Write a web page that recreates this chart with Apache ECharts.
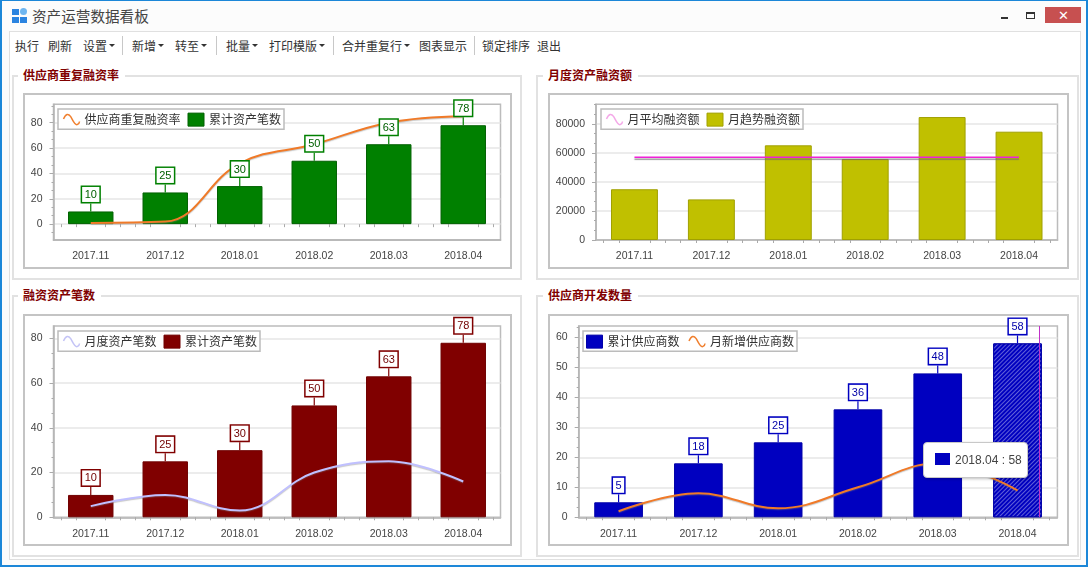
<!DOCTYPE html>
<html>
<head>
<meta charset="utf-8">
<script src="https://cdn.jsdelivr.net/npm/echarts@6/dist/echarts.min.js"></script>
<style>
  html, body { margin: 0; padding: 0; width: 1090px; height: 568px; overflow: hidden; background: #fff; }
  body { font-family: "Noto Sans CJK SC", sans-serif; color: #333; }
  .abs { position: absolute; box-sizing: border-box; }
  #win { left: 0; top: 0; width: 1088px; height: 567px; border: 2px solid #1c87d8; border-top-width: 1px; background: #fcfcfc; }
  #body { left: 9px; top: 31px; width: 1072px; height: 529px; background: #fff; border: 1px solid #e0e0e0; }
  .t { position: absolute; font-size: 12px; line-height: 16px; top: 38px; white-space: nowrap; color: #333; }
  .arrow:after { content: ""; position: absolute; right: -8px; top: 6px; border: 3px solid transparent; border-top: 3px solid #333; }
  .sep { position: absolute; top: 36px; width: 1px; height: 19px; background: #c8c8c8; }
  .set { border: 2px solid #e2e2e2; }
  .cap { position: absolute; background: #fff; padding: 0 6px 0 5px; font-size: 12px; line-height: 16px; font-weight: bold; color: #800000; }
  .frame { border: 2px solid #c4c4c4; background: #fff; }
  .chart { position: absolute; }
</style>
</head>
<body>
<div class="abs" id="win"></div>
<div class="abs" id="body"></div>

<div class="abs" style="left:12px;top:9px;width:7px;height:6px;background:#2b84e0"></div>
<div class="abs" style="left:20px;top:8px;width:7px;height:7px;background:#6fb6f0;border-radius:50%"></div>
<div class="abs" style="left:12px;top:17px;width:7px;height:6px;background:#2b84e0"></div>
<div class="abs" style="left:20px;top:17px;width:7px;height:6px;background:#2b84e0"></div>
<div class="t" style="left:32px;top:6px;font-size:14.6px;line-height:20px;color:#444">资产运营数据看板</div>
<div class="abs" style="left:1001px;top:17px;width:7px;height:2px;background:#333"></div>
<div class="abs" style="left:1026px;top:12px;width:9px;height:7px;border:1px solid #333;border-top-width:2px"></div>
<div class="abs" style="left:1045px;top:7px;width:36px;height:16px;background:#c75050;color:#fff;font-size:13px;line-height:16px;text-align:center">✕</div>

<div class="t" style="left:15px">执行</div>
<div class="t" style="left:48px">刷新</div>
<div class="t arrow" style="left:83px">设置</div>
<div class="sep" style="left:122px"></div>
<div class="t arrow" style="left:132px">新增</div>
<div class="t arrow" style="left:175px">转至</div>
<div class="sep" style="left:216px"></div>
<div class="t arrow" style="left:226px">批量</div>
<div class="t arrow" style="left:269px">打印模版</div>
<div class="sep" style="left:333px"></div>
<div class="t arrow" style="left:342px">合并重复行</div>
<div class="t" style="left:419px">图表显示</div>
<div class="sep" style="left:474px"></div>
<div class="t" style="left:482px">锁定排序</div>
<div class="t" style="left:537px">退出</div>

<div class="abs set" style="left:12px;top:75px;width:510px;height:205px"></div>
<div class="abs set" style="left:536px;top:75px;width:543px;height:205px"></div>
<div class="abs set" style="left:12px;top:295px;width:510px;height:262px"></div>
<div class="abs set" style="left:536px;top:295px;width:543px;height:262px"></div>
<div class="cap" style="left:18px;top:67px">供应商重复融资率</div>
<div class="cap" style="left:543px;top:67px">月度资产融资额</div>
<div class="cap" style="left:18px;top:287px">融资资产笔数</div>
<div class="cap" style="left:543px;top:287px">供应商开发数量</div>

<div class="abs frame" style="left:23px;top:93px;width:489px;height:176px"></div>
<div class="abs frame" style="left:548px;top:93px;width:521px;height:176px"></div>
<div class="abs frame" style="left:23px;top:314px;width:489px;height:232px"></div>
<div class="abs frame" style="left:548px;top:314px;width:521px;height:232px"></div>

<div class="chart" id="chart1" style="left:23px;top:93px;width:489px;height:176px"></div>
<div class="chart" id="chart2" style="left:548px;top:93px;width:521px;height:176px"></div>
<div class="chart" id="chart3" style="left:23px;top:314px;width:489px;height:232px"></div>
<div class="chart" id="chart4" style="left:548px;top:314px;width:521px;height:232px"></div>

<script>
const months = ['2017.11', '2017.12', '2018.01', '2018.02', '2018.03', '2018.04'];

const repeatRate = [1, 2, 48, 63, 80, 85];
const totalAssets = [10, 25, 30, 50, 63, 78];
const avgFinance = [57000, 57000, 57000, 57000, 57000, 57000];
const trendFinance = [35000, 28000, 65300, 55900, 84800, 74700];
const monthAssets = [5, 10, 3, 20, 25, 16];
const totalSuppliers = [5, 18, 25, 36, 48, 58];
const newSuppliers = [2, 8, 3, 10, 18, 9];

const ticks1 = [0, 20, 40, 60, 80];
const ticks2 = [0, 20000, 40000, 60000, 80000];
const ticks3 = [0, 20, 40, 60, 80];
const ticks4 = [0, 10, 20, 30, 40, 50, 60];

const waveIcon = 'path://M0 6C3 -1 6 -1 9 3C12 8 14 14 17 13C19 12 20 10 20 9';
const textFont = 'Liberation Sans';
const cjkFont = 'Noto Sans CJK SC';

function minorValues(ticks, min, max) {
  let step = (ticks[1] - ticks[0]) / 3;
  let arr = [];
  for (let v = ticks[0] - step * 6; v <= max; v += step) {
    if (v >= min && !ticks.includes(Math.round(v * 1000) / 1000)) {
      arr.push(v);
    }
  }
  return arr;
}

function minorBands() {
  let arr = [];
  for (let i = 0; i < 30; i++) {
    if ((i - 2) % 5 !== 0) arr.push(i + 0.5);
  }
  return arr;
}

function barSeries(name, values, color, border) {
  return {
    name: name,
    type: 'bar',
    data: values,
    barCategoryGap: '39%',
    barGap: '-100%',
    itemStyle: { color: color, borderColor: border, borderWidth: 1 }
  };
}

// boxed value labels go in their own see-through bar so the line passes under them
function labelSeries(name, values, color, border) {
  return {
    name: name,
    type: 'bar',
    data: values,
    z: 5,
    silent: true,
    barCategoryGap: '39%',
    barGap: '-100%',
    itemStyle: { color: 'transparent' },
    label: {
      show: true,
      position: 'top',
      distance: 0,
      color: border,
      fontFamily: textFont,
      fontSize: 11,
      lineHeight: 12,
      backgroundColor: '#fff',
      borderColor: color,
      borderWidth: 1.5,
      padding: [2, 2.5, 1, 2.5],
      align: 'center'
    },
    labelLayout: { dy: -9.5 },
    labelLine: { show: true, lineStyle: { color: color, width: 1.2 } }
  };
}

function lineSeries(name, values, color) {
  return {
    name: name,
    type: 'line',
    data: values,
    smooth: 0.4,
    showSymbol: false,
    lineStyle: { color: color, width: 2, shadowColor: 'rgba(120,120,120,0.4)', shadowBlur: 1, shadowOffsetY: 1 },
    itemStyle: { color: color }
  };
}

function makeOption(cfg) {
  return {
    animation: false,
    grid: Object.assign({ show: true, borderColor: '#bcbcbc', borderWidth: 1.5, backgroundColor: 'transparent' }, cfg.grid),
    legend: {
      left: cfg.legendLeft,
      top: cfg.legendTop,
      orient: 'horizontal',
      padding: [3, 3, 2, 3],
      itemGap: 7,
      itemWidth: 16,
      itemHeight: 13,
      backgroundColor: '#fff',
      borderColor: '#bcbcbc',
      borderWidth: 1.5,
      textStyle: { fontFamily: cjkFont, fontSize: 12, color: '#333' },
      data: cfg.legend
    },
    xAxis: [{
      type: 'category',
      data: months,
      axisLine: { onZero: false, lineStyle: { color: '#b4b4b4', width: 1.5 } },
      axisTick: { alignWithLabel: true, length: 6, lineStyle: { color: '#aaa' } },
      axisLabel: { color: '#444', fontFamily: textFont, fontSize: 10.5, margin: 11, interval: 0 },
      splitLine: { show: false }
    }, {
      type: 'value',
      min: 0,
      max: 30,
      position: 'bottom',
      axisLine: { show: false },
      axisTick: { show: true, length: 3, customValues: minorBands(), lineStyle: { color: '#aaa' } },
      axisLabel: { show: false },
      splitLine: { show: false }
    }],
    yAxis: [{
      type: 'value',
      min: cfg.min,
      max: cfg.max,
      axisLine: { show: true, lineStyle: { color: '#b4b4b4', width: 1.5 } },
      axisTick: { show: true, length: 4, customValues: cfg.ticks, lineStyle: { color: '#aaa' } },
      axisLabel: { color: '#444', fontFamily: textFont, fontSize: 10.5, margin: 11, customValues: cfg.ticks, formatter: function (v) { return String(v); } },
      splitLine: { show: true, customValues: cfg.ticks, lineStyle: { color: '#e6e6e6', width: 1.5 } }
    }, {
      type: 'value',
      min: cfg.min,
      max: cfg.max,
      position: 'left',
      axisLine: { show: false },
      axisTick: { show: true, length: 2, customValues: minorValues(cfg.ticks, cfg.min, cfg.max), lineStyle: { color: '#aaa' } },
      axisLabel: { show: false },
      splitLine: { show: false }
    }],
    series: cfg.series
  };
}

function lineLegend(name, color) {
  return { name: name, icon: waveIcon, itemStyle: { color: 'none', borderColor: color, borderWidth: 1.5 } };
}

function barLegend(name, color, border) {
  return { name: name, icon: 'rect', itemStyle: { color: color, borderColor: border, borderWidth: 1 } };
}

function chart_1() {
  let myChart = echarts.init(document.getElementById('chart1'));
  myChart.setOption(makeOption({
    grid: { left: 30.5, top: 11.3, width: 447, height: 135.7 },
    legendLeft: 35, legendTop: 16,
    min: -12.5, max: 94.5, ticks: ticks1,
    legend: [lineLegend('供应商重复融资率', '#f08030'), barLegend('累计资产笔数', '#008000', '#006000')],
    series: [
      barSeries('累计资产笔数', totalAssets, '#008000', '#006000'),
      lineSeries('供应商重复融资率', repeatRate, '#f07a28'),
      labelSeries('label', totalAssets, '#008000', '#006000')
    ]
  }));
}

function chart_2() {
  let myChart = echarts.init(document.getElementById('chart2'));
  let line = lineSeries('月平均融资额', avgFinance, '#f020d8');
  line.lineStyle = { color: '#f020d8', width: 1.5, shadowColor: 'rgba(110,110,110,0.7)', shadowBlur: 1, shadowOffsetY: 2 };
  myChart.setOption(makeOption({
    grid: { left: 48, top: 11.3, width: 461.5, height: 135.7 },
    legendLeft: 53, legendTop: 16,
    min: 0, max: 93600, ticks: ticks2,
    legend: [lineLegend('月平均融资额', '#f4a8e8'), barLegend('月趋势融资额', '#c0c000', '#a0a000')],
    series: [barSeries('月趋势融资额', trendFinance, '#c0c000', '#a0a000'), line]
  }));
}

function chart_3() {
  let myChart = echarts.init(document.getElementById('chart3'));
  myChart.setOption(makeOption({
    grid: { left: 30.5, top: 12, width: 447, height: 191.3 },
    legendLeft: 35, legendTop: 17,
    min: 0, max: 85.5, ticks: ticks3,
    legend: [lineLegend('月度资产笔数', '#c4c4f6'), barLegend('累计资产笔数', '#800000', '#700000')],
    series: [
      barSeries('累计资产笔数', totalAssets, '#800000', '#700000'),
      lineSeries('月度资产笔数', monthAssets, '#c0c0ff'),
      labelSeries('label', totalAssets, '#800000', '#700000')
    ]
  }));
}

function chart_4() {
  let myChart = echarts.init(document.getElementById('chart4'));
  let bar = barSeries('累计供应商数', totalSuppliers, '#0000c0', '#0000a8');
  // last bar is the hovered one, drawn hatched
  bar.data = totalSuppliers.map(function (v, i) {
    if (i !== totalSuppliers.length - 1) return v;
    return {
      value: v,
      itemStyle: {
        decal: { symbol: 'rect', color: 'rgba(255,255,255,0.38)', dashArrayX: [1, 0], dashArrayY: [1, 2], rotation: -Math.PI / 4 }
      }
    };
  });
  let option = makeOption({
    grid: { left: 30.7, top: 12, width: 478.7, height: 191.3 },
    legendLeft: 35, legendTop: 17,
    min: 0, max: 63.8, ticks: ticks4,
    legend: [barLegend('累计供应商数', '#0000c0', '#0000a8'), lineLegend('月新增供应商数', '#f08030')],
    series: [
      bar,
      lineSeries('月新增供应商数', newSuppliers, '#f07a28'),
      labelSeries('label', totalSuppliers, '#0000c0', '#0000a8')
    ]
  });
  option.tooltip = {
    trigger: 'item',
    triggerOn: 'none',
    alwaysShowContent: true,
    transitionDuration: 0,
    position: [375, 128],
    padding: 0,
    backgroundColor: '#fff',
    borderColor: '#c8c8c8',
    borderWidth: 1,
    borderRadius: 4,
    extraCssText: 'box-shadow:1px 1px 3px rgba(0,0,0,0.25);',
    formatter: function (p) {
      return '<div style="width:103px;height:34px;box-sizing:border-box;padding-left:11px;font:12px/34px Liberation Sans;color:#444;white-space:nowrap">' +
        '<span style="display:inline-block;width:15px;height:12px;background:#0000c0;margin-right:5px;vertical-align:-1px"></span>' +
        p.name + ' : ' + (p.value) + '</div>';
    }
  };
  // cursor line left on the chart by the hover
  option.graphic = [{
    type: 'line',
    silent: true,
    shape: { x1: 491.5, y1: 12, x2: 491.5, y2: 203 },
    style: { stroke: '#c030c8', lineWidth: 1 },
    z: 10
  }];
  myChart.setOption(option);
  myChart.dispatchAction({ type: 'showTip', seriesIndex: 0, dataIndex: 5 });
}

chart_1();
chart_2();
chart_3();
chart_4();
</script>
</body>
</html>
